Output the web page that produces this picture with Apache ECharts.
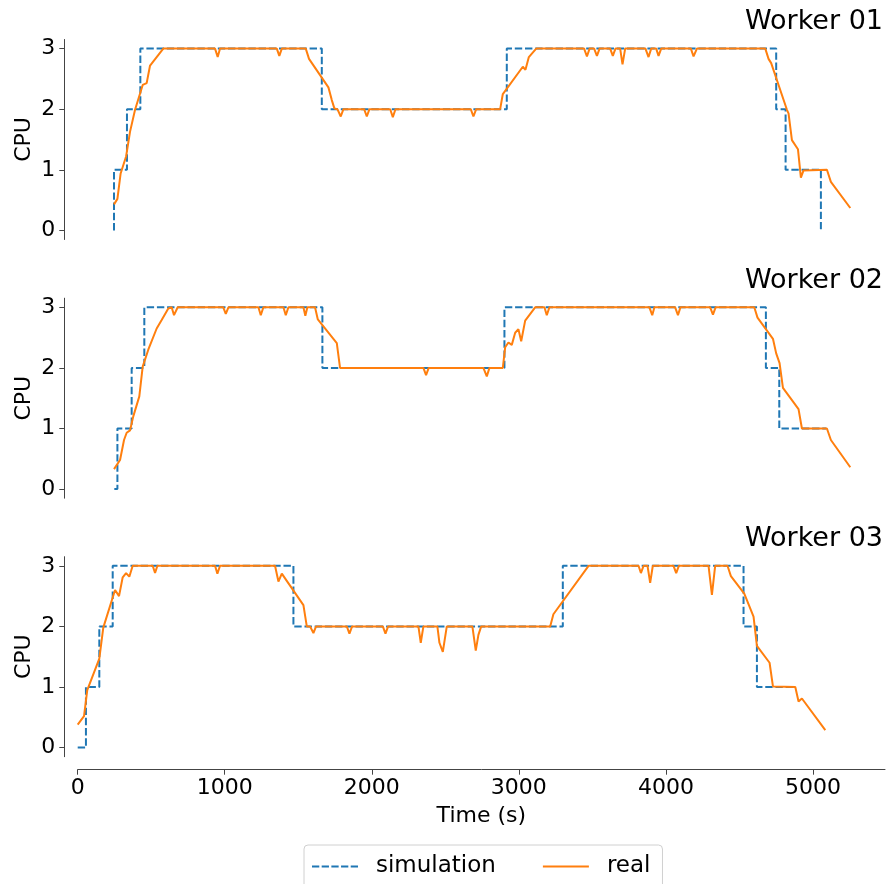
<!DOCTYPE html>
<html>
<head>
<meta charset="utf-8">
<script src="https://cdn.jsdelivr.net/npm/echarts@6/dist/echarts.min.js"></script>
<style>
  html, body { margin: 0; padding: 0; background: #fff; }
  #chart { width: 888px; height: 884px; }
</style>
</head>
<body>
<div id="chart"></div>
<script>
// worker names
const workers = ["Worker 01", "Worker 02", "Worker 03"];
const xTicks = [0, 1000, 2000, 3000, 4000, 5000];
const yTicks = [0, 1, 2, 3];

// simulation: step change times (s) and cpu level held after each time
const simT1 = [247, 247, 335, 426, 1660, 2918, 4750, 4814, 5054];
const simV1 = [0, 1, 2, 3, 2, 3, 2, 1, 0];
const simT2 = [249, 270, 367, 453, 1664, 2902, 4680, 4771, 5090];
const simV2 = [0, 1, 2, 3, 2, 3, 2, 1, 1];
const simT3 = [0, 56, 147, 238, 1467, 3299, 4528, 4619, 4880];
const simV3 = [0, 1, 2, 3, 2, 3, 2, 1, 1];

// real measurements
const realT1 = [247,270,292,329,356,390,442,469,492,582,934,952,968,1354,1371,1388,1551,1573,1705,1728,
  1746,1766,1789,1807,1948,1966,1984,2125,2143,2161,2673,2691,2710,2873,2891,3027,3045,3068,3118,3444,
  3463,3481,3512,3531,3549,3621,3639,3657,3689,3705,3723,3861,3882,3900,3934,3950,3968,4170,4188,4211,
  4676,4698,4716,4823,4834,4857,4898,4918,4936,5095,5122,5254];
const realV1 = [0.43,0.52,0.94,1.22,1.63,1.99,2.40,2.43,2.72,3,3,2.86,3,3,2.88,3,3,2.83,2.36,2.15,
  2.01,2,1.88,2,2,1.88,2,2,1.87,2,2,1.88,2,2,2.25,2.70,2.65,2.86,3,3,
  2.87,3,3,2.88,3,3,2.88,3,3,2.74,3,3,2.86,3,3,2.88,3,3,2.87,3,
  3,2.83,2.76,1.99,1.93,1.49,1.34,0.87,0.99,1,0.80,0.37];

const realT2 = [247,288,315,333,356,378,419,442,480,537,571,616,639,655,680,990,1007,1025,1229,1245,
  1263,1399,1415,1433,1535,1548,1562,1614,1633,1762,1784,2351,2369,2387,2759,2782,2800,2891,2907,2929,
  2952,2975,2997,3016,3043,3111,3174,3190,3208,3888,3907,3922,4063,4082,4099,4301,4320,4338,4601,4623,
  4728,4750,4773,4796,4902,4925,5095,5122,5254];
const realV2 = [0.33,0.48,0.81,0.93,0.97,1.20,1.53,2.02,2.30,2.65,2.79,2.98,3,2.87,3,3,2.89,3,3,2.87,
  3,3,2.87,3,3,2.86,3,3,2.80,2.41,2.0,2,1.88,2,2,1.86,2,2,2.34,2.42,
  2.38,2.58,2.64,2.44,2.78,3,3,2.87,3,3,2.87,3,3,2.87,3,3,2.88,3,3,2.83,
  2.48,2.24,2.08,1.67,1.32,1.0,1,0.81,0.36];

const realT3 = [0,43,65,147,174,254,281,306,329,351,374,510,526,542,934,950,968,1342,1365,1388,
  1535,1558,1580,1603,1621,1830,1848,1866,2075,2093,2111,2317,2333,2351,2446,2460,2483,2510,2684,2707,
  2725,2744,3213,3235,3474,3814,3830,3848,3875,3893,3911,4052,4070,4088,4290,4313,4335,4419,4442,4533,
  4596,4619,4705,4728,4880,4902,4925,5084];
const realV3 = [0.38,0.52,0.95,1.47,1.98,2.60,2.50,2.81,2.88,2.82,3,3,2.88,3,3,2.87,3,3,2.74,2.87,
  2.35,2.0,2,1.89,2,2,1.88,2,2,1.88,2,2,1.73,2,2,1.73,1.58,2,2,1.60,
  1.86,2,2,2.20,3,3,2.88,3,3,2.72,3,3,2.88,3,3,2.52,3,3,2.83,2.54,
  2.16,1.68,1.40,1.01,1,0.76,0.81,0.29];

const simT = [simT1, simT2, simT3], simV = [simV1, simV2, simV3];
const realT = [realT1, realT2, realT3], realV = [realV1, realV2, realV3];

const FONT = "DejaVu Sans";
const gridTops = [39.5, 298.2, 556.7];
const titleTops = [8, 267, 525];

// legend samples (dashed / solid line), drawn as filled paths
const dashIcon = "path://M0,0h7.3v2h-7.3z M9.7,0h7.3v2h-7.3z M19.4,0h7.3v2h-7.3z M29.1,0h7.3v2h-7.3z M38.8,0h7.3v2h-7.3z";
const lineIcon = "path://M0,0h46v2h-46z";

function zip(a, b) { return a.map((v, i) => [v, b[i]]); }

let chart = echarts.init(document.getElementById("chart"), null, { renderer: "canvas" });

let grids = [], xAxes = [], yAxes = [], titles = [], series = [];
workers.forEach((w, i) => {
  grids.push({ left: 77.7, right: 3, top: gridTops[i], height: 200 });
  titles.push({
    text: w, right: 5, top: titleTops[i], padding: 0,
    textStyle: { fontFamily: FONT, fontSize: 27, fontWeight: "normal", color: "#000" }
  });
  const last = i === workers.length - 1;
  xAxes.push({
    type: "value", gridIndex: i, min: 0, max: 5490, show: last, offset: 13,
    name: last ? "Time (s)" : "", nameLocation: "middle", nameGap: 36,
    nameTextStyle: { fontFamily: FONT, fontSize: 22, color: "#000" },
    axisLine: { show: true, onZero: false, lineStyle: { color: "#444", width: 1 } },
    axisTick: { show: true, length: 5, customValues: xTicks, lineStyle: { color: "#444" } },
    axisLabel: {
      customValues: xTicks, margin: 8, fontFamily: FONT, fontSize: 22, color: "#000",
      formatter: v => String(v)
    },
    splitLine: { show: false }
  });
  yAxes.push({
    type: "value", gridIndex: i, min: -0.15, max: 3.15, offset: 13.4,
    name: "CPU", nameLocation: "middle", nameRotate: 90, nameGap: 29, nameMoveOverlap: false,
    nameTextStyle: { fontFamily: FONT, fontSize: 22, color: "#000" },
    axisLine: { show: true, onZero: false, lineStyle: { color: "#444", width: 1 } },
    axisTick: { show: true, length: 5, customValues: yTicks, lineStyle: { color: "#444" } },
    axisLabel: { customValues: yTicks, margin: 9, fontFamily: FONT, fontSize: 22, color: "#000" },
    splitLine: { show: false }
  });
  series.push({
    name: "simulation", type: "line", xAxisIndex: i, yAxisIndex: i,
    data: zip(simT[i], simV[i]), step: "end", symbol: "none", silent: true,
    lineStyle: { color: "#1f77b4", width: 2, type: [7.4, 2.8] },
    itemStyle: { color: "#1f77b4" }, z: 2
  });
  series.push({
    name: "real", type: "line", xAxisIndex: i, yAxisIndex: i,
    data: zip(realT[i], realV[i]), symbol: "none", silent: true,
    lineStyle: { color: "#ff7f0e", width: 2 },
    itemStyle: { color: "#ff7f0e" }, z: 3
  });
});

chart.setOption({
  animation: false,
  backgroundColor: "#fff",
  title: titles,
  grid: grids,
  xAxis: xAxes,
  yAxis: yAxes,
  legend: {
    data: [
      { name: "simulation", icon: dashIcon },
      { name: "real", icon: lineIcon }
    ],
    left: 304, top: 845,
    padding: [10, 12, 14, 8],
    itemWidth: 46, itemHeight: 2, itemGap: 47,
    borderColor: "#d0d0d0", borderWidth: 1, borderRadius: 4,
    textStyle: { fontFamily: FONT, fontSize: 23, color: "#000", padding: [0, 0, 0, 13] }
  },
  series: series
});
</script>
</body>
</html>
